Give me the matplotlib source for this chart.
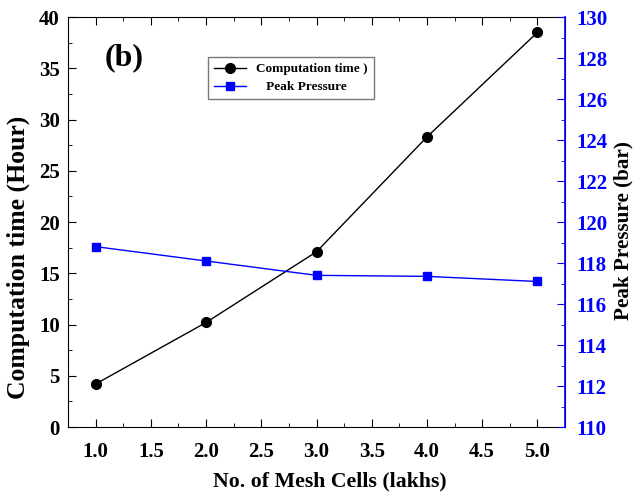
import matplotlib
matplotlib.use("Agg")
import matplotlib.pyplot as plt
from matplotlib.ticker import MultipleLocator

plt.rcParams['font.family'] = ['Liberation Serif', 'DejaVu Serif']
plt.rcParams['font.weight'] = 'bold'

mesh_cells = [1.0, 2.0, 3.0, 4.0, 5.0]
comp_time = [4.2, 10.2, 17.1, 28.3, 38.5]
peak_pressure = [118.8, 118.1, 117.4, 117.35, 117.1]

fig = plt.figure(figsize=(6.38, 4.96), dpi=100)
ax = fig.add_axes([0.1066, 0.139, 0.779, 0.8267])
ax2 = ax.twinx()

l1, = ax.plot(mesh_cells, comp_time, '-o', color='black', lw=1.0, ms=7,
              label='Computation time )')
l2, = ax2.plot(mesh_cells, peak_pressure, '-s', color='blue', lw=1.0, ms=6,
               label='   Peak Pressure')

ax.set_xlim(0.75, 5.25)
ax.set_ylim(0, 40)
ax2.set_ylim(110, 130)

ax.xaxis.set_major_locator(MultipleLocator(0.5))
ax.xaxis.set_minor_locator(MultipleLocator(0.25))
ax.yaxis.set_major_locator(MultipleLocator(5))
ax.yaxis.set_minor_locator(MultipleLocator(2.5))
ax2.yaxis.set_major_locator(MultipleLocator(2))
ax2.yaxis.set_minor_locator(MultipleLocator(1))
ax.set_xticks([1.0, 1.5, 2.0, 2.5, 3.0, 3.5, 4.0, 4.5, 5.0])
ax.set_xticklabels([f"{v:.1f}" for v in ax.get_xticks()])

ax.tick_params(axis='x', which='both', direction='in', top=True, bottom=True, labelsize=15, pad=11)
ax.tick_params(axis='x', which='major', length=6)
ax.tick_params(axis='x', which='minor', length=3)
ax.tick_params(axis='y', which='both', direction='in', left=True, right=False, labelsize=15, pad=6)
ax.tick_params(axis='y', which='major', length=6)
ax.tick_params(axis='y', which='minor', length=3)
ax2.tick_params(axis='y', which='both', direction='in', colors='blue', labelsize=15, pad=8)
ax2.tick_params(axis='y', which='major', length=6)
ax2.tick_params(axis='y', which='minor', length=3)

for lab in ax.get_xticklabels() + ax.get_yticklabels() + ax2.get_yticklabels():
    lab.set_fontweight('bold')

ax2.spines['right'].set_color('blue')
ax2.spines['right'].set_linewidth(1.2)
for s in ['left', 'top', 'bottom']:
    ax2.spines[s].set_visible(False)

ax.set_xlabel('No. of Mesh Cells (lakhs)', fontsize=15.7, fontweight='bold')
ax.xaxis.set_label_coords(0.527, -0.108)
ax.set_ylabel('Computation time (Hour)', fontsize=18.5, fontweight='bold')
ax.yaxis.set_label_coords(-0.076, 0.415)
ax2.set_ylabel('Peak Pressure (bar)', fontsize=15.2, fontweight='bold', color='black')
ax2.yaxis.set_label_coords(1.098, 0.478)

ax.text(1.085, 36.0, '(b)', fontsize=23, fontweight='bold', ha='left', va='center')

fig.legend(handles=[l1, l2], loc='upper left', bbox_to_anchor=(0.326, 0.885),
           borderaxespad=0,
           prop={'size': 9.5, 'weight': 'bold'}, frameon=True, fancybox=False,
           edgecolor='#555555', handlelength=2.4, borderpad=0.45, labelspacing=0.45)

fig.savefig('out.png', dpi=100)
